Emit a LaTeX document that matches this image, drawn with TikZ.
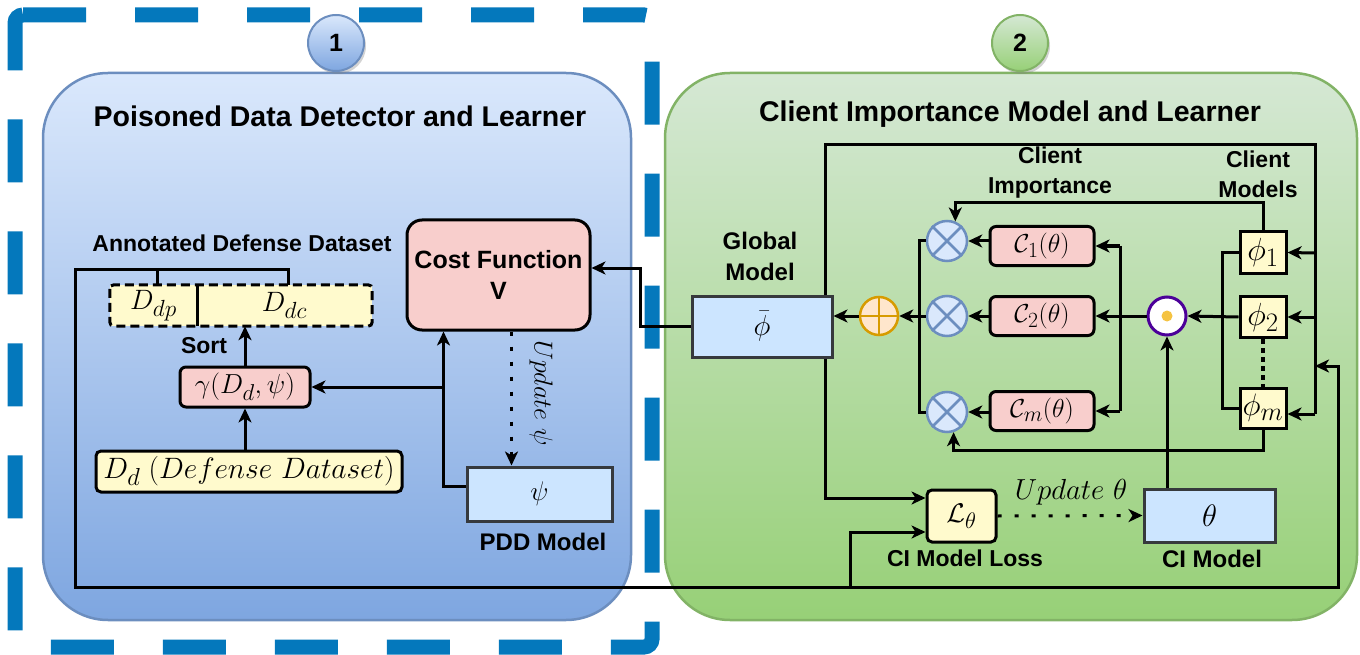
\documentclass[tikz,border=0pt]{standalone}
\usepackage{graphicx}
\usepackage{fontspec}
\setsansfont{Liberation Sans}
\usetikzlibrary{arrows.meta,shadows,calc}
\definecolor{dashblue}{HTML}{0478BC}
\definecolor{pAtop}{HTML}{DAE8FC}
\definecolor{pAbot}{HTML}{7EA6E0}
\definecolor{pAbrd}{HTML}{6C8EBF}
\definecolor{pBtop}{HTML}{D5E8D4}
\definecolor{pBbot}{HTML}{97D077}
\definecolor{pBbrd}{HTML}{82B366}
\definecolor{pinkf}{HTML}{F8CECC}
\definecolor{yelf}{HTML}{FFFACD}
\definecolor{bluef}{HTML}{CCE5FF}
\definecolor{darkbrd}{HTML}{36393D}
\definecolor{orng}{HTML}{D79B00}
\definecolor{orngf}{HTML}{FFE6CC}
\definecolor{purp}{HTML}{4C0099}
\definecolor{dotf}{HTML}{F5C342}
\newcommand\mycross[1]{\draw[pAbrd, line width=2.5pt] (#1.45) -- (#1.225) (#1.135) -- (#1.315);}
\newcommand\myplus[1]{\draw[orng, line width=2.5pt] (#1.north) -- (#1.south) (#1.west) -- (#1.east);}
\newcommand\msz[2]{\scalebox{\fpeval{#1/24.88}}{\fontsize{24.88}{28}\selectfont$#2$}}
\tikzset{
 ln/.style={line width=3pt},
 arr/.style={line width=3pt, -{Stealth[length=14pt,width=13pt,inset=4pt]}},
 darr/.style={arr, dash pattern=on 4pt off 11pt},
 lbl/.style={font=\sffamily\bfseries\fontsize{23}{30}\selectfont, align=center, inner sep=0pt},
 ttl/.style={font=\sffamily\bfseries\fontsize{28.5}{30}\selectfont, inner sep=0pt},
 pinkbox/.style={draw, line width=3pt, fill=pinkf, rounded corners=6pt, inner sep=0pt},
 yelbox/.style={draw, line width=3pt, fill=yelf, rounded corners=5pt, inner sep=0pt},
 bluebox/.style={draw=darkbrd, line width=3pt, fill=bluef, inner sep=0pt},
 phibox/.style={draw, line width=3pt, fill=yelf, inner sep=0pt, minimum width=46pt, minimum height=41pt},
 otimesnode/.style={circle, draw=pAbrd, fill=pAtop, line width=2.5pt, minimum size=40pt, inner sep=0pt},
 numball/.style={circle, minimum size=56pt, inner sep=0pt, line width=2pt, drop shadow={opacity=0.35, shadow xshift=2pt, shadow yshift=-3pt}, font=\sffamily\bfseries\fontsize{25}{25}\selectfont},
}
\begin{document}
\begin{tikzpicture}[x=1pt,y=-1pt]
\useasboundingbox (0,0) rectangle (1360,655);
% dashed frame
\draw[dashblue, line width=15pt, dash pattern=on 63pt off 49pt, rounded corners=8pt] (15,15) -- (652,15) -- (652,647) -- (15,647) -- cycle;
% panels
\draw[pAbrd, line width=2.5pt, top color=pAtop, bottom color=pAbot, rounded corners=65pt] (43,73) rectangle (631,620);
\draw[pBbrd, line width=2.5pt, top color=pBtop, bottom color=pBbot, rounded corners=65pt] (665,73) rectangle (1357,620);
% number balls
\node[numball, draw=pAbrd, top color=pAtop, bottom color=pAbot] (n1) at (336,43) {1};
\node[numball, draw=pBbrd, top color=pBtop, bottom color=pBbot] (n2) at (1020,43) {2};
% titles
\node[ttl] (t1) at (340,116) {Poisoned Data Detector and Learner};
\node[ttl] (t2) at (1010,114) {Client Importance Model and Learner};

% ---------- panel 1 ----------
\node[lbl] (adl) at (242,243) {Annotated Defense Dataset};
\node[fill=yelf, minimum width=87pt, minimum height=41pt, inner sep=0pt] (ddp) at (153.5,305.5) {\msz{28}{D_{dp}}};
\node[fill=yelf, minimum width=175pt, minimum height=41pt, inner sep=0pt] (ddc) at (284.5,305.5) {\msz{28}{D_{dc}}};
\draw[line width=3pt, dash pattern=on 9pt off 5pt, rounded corners=4pt] (ddp.north west) rectangle (ddc.south east);
\draw[ln] (ddp.north east) -- (ddp.south east);
\node[pinkbox, minimum width=130pt, minimum height=40pt] (gam) at (245,387) {\msz{27.5}{\gamma(D_d,\psi)}};
\node[yelbox, minimum width=306pt, minimum height=41pt] (dd) at (249,471.5) {\msz{29.5}{D_d\;(Defense\ Dataset)}};
\node[pinkbox, rounded corners=15pt, minimum width=183pt, minimum height=110pt, align=center, font=\sffamily\bfseries\fontsize{25}{31}\selectfont] (cost) at (498.5,275) {Cost Function\\V};
\node[bluebox, minimum width=145pt, minimum height=54pt] (psi) at (539.5,494) {\msz{27}{\psi}};
\node[lbl, font=\sffamily\bfseries\fontsize{24}{30}\selectfont] (pddl) at (543,542) {PDD Model};
\node[lbl] (sortl) at (204,346) {Sort};
\node[rotate=-90] (updpsi) at (541,393) {\msz{26}{Update\ \psi}};

% panel 1 connectors
\draw[arr] (gam.south |- dd.north) -- (gam.south);
\draw[arr] (gam.north) -- (gam.north |- ddc.south);
\draw[arr] ([yshift=8pt]psi.west) -| ([xshift=-55pt]cost.south);
\draw[arr] (gam.east -| 443,0) -- (gam.east);
\draw[darr] ([xshift=13pt]cost.south) -- ([xshift=13pt]cost.south |- psi.north);

% ---------- panel 2 ----------
\node[lbl, font=\sffamily\bfseries\fontsize{24}{31}\selectfont] (gml) at (760,256) {Global\\Model};
\node[bluebox, minimum width=140pt, minimum height=61pt] (phib) at (762,326.5) {\msz{29}{\bar{\phi}}};
\node[circle, draw=orng, fill=orngf, line width=2.5pt, minimum size=38pt, inner sep=0pt] (opl) at (879,316) {};
\myplus{opl}
\node[otimesnode] (o1) at (947,241) {}; \mycross{o1}
\node[otimesnode] (o2) at (947,316) {}; \mycross{o2}
\node[otimesnode] (om) at (947,412) {}; \mycross{om}
\node[pinkbox, minimum width=104pt, minimum height=39pt] (c1) at (1042,246) {\msz{26}{\mathcal{C}_1(\theta)}};
\node[pinkbox, minimum width=104pt, minimum height=39pt] (c2) at (1042,316) {\msz{26}{\mathcal{C}_2(\theta)}};
\node[pinkbox, minimum width=104pt, minimum height=39pt] (cm) at (1042,411) {\msz{26}{\mathcal{C}_m(\theta)}};
\node[circle, draw=purp, fill=white, line width=3pt, minimum size=38pt, inner sep=0pt] (od) at (1167,316) {};
\fill[dotf] (od) circle (5.5pt);
\node[phibox] (f1) at (1263,252.5) {\msz{32}{\phi_1}};
\node[phibox] (f2) at (1263,317) {\msz{32}{\phi_2}};
\node[phibox, minimum height=40pt] (fm) at (1263,408) {\msz{31}{\phi_m}};
\node[lbl] (cil) at (1050,173) {Client\\Importance};
\node[lbl] (cml) at (1258,174) {Client\\Models};
\node[yelbox, minimum width=69pt, minimum height=52pt] (lt) at (961.5,516) {\msz{27}{\mathcal{L}_\theta}};
\node[bluebox, minimum width=131pt, minimum height=53pt] (th) at (1209.5,515.5) {\msz{31}{\theta}};
\node[lbl] (cill) at (965,558) {CI Model Loss};
\node[lbl, font=\sffamily\bfseries\fontsize{24}{30}\selectfont] (cimdl) at (1212,559) {CI Model};
\node (updth) at (1071,492) {\msz{29}{Update\ \theta}};

% panel 2 connectors
\draw[arr] (opl.west) -- (opl.west -| phib.east);
\draw[ln] (o1.west) -- (919,241) -- (919,412) -- (om.west);
\draw[arr] (o2.west) -- (opl.east);
\draw[arr] (c1.west |- o1.east) -- (o1.east);
\draw[arr] (c2.west) -- (o2.east);
\draw[arr] (cm.west |- om.east) -- (om.east);
\draw[ln] (1120,246) -- (1120,411);
\draw[arr] (1120,246) -- (c1.east);
\draw[arr] (od.west) -- (c2.east);
\draw[arr] (1120,411) -- (cm.east);
\draw[ln] (f1.west) -| (1222,408) -- (fm.west);
\draw[arr] (f2.west) -- (od.east);
\draw[line width=4.5pt, dash pattern=on 5pt off 4pt] (f2.south) -- (fm.north);
\draw[arr] (f1.north) -- (f1.north |- 0,203) -- (o1.67 |- 0,203) -- (o1.67);
\draw[arr] (fm.south) -- (fm.south |- 0,450) -- (om.-72 |- 0,450) -- (om.-72);
\draw[arr] (od |- th.north) -- (od.south);
\draw[arr, dash pattern=on 4pt off 13pt] (lt.east) -- (th.west);
% top loop from global model to client models
\draw[ln] ([xshift=-8pt]phib.north east) -- ([xshift=-8pt]phib.north east |- 0,145) -- (1315,145) -- (1315,414);
\draw[arr] (1315,253) -- (f1.east);
\draw[arr] (1315,317) -- (f2.east);
\draw[arr] (1315,414) -- ([yshift=-6pt]fm.east);
% global model to loss and to cost
\draw[arr] ([xshift=-8pt]phib.south east) |- ([yshift=18pt]lt.west);
\draw[arr] (phib.west) -| (640,268) -- ([yshift=7pt]cost.east);
% annotated data long loop
\draw[ln] ([xshift=4pt]ddp.north) -- ([xshift=4pt]ddp.north |- 0,269);
\draw[arr] ([xshift=4pt]ddc.north) |- (75,269) |- (1338,587) -- (1338,366) -- (1315,366);
\draw[arr] (850,587) |- ([yshift=-16pt]lt.west);
\end{tikzpicture}
\end{document}
